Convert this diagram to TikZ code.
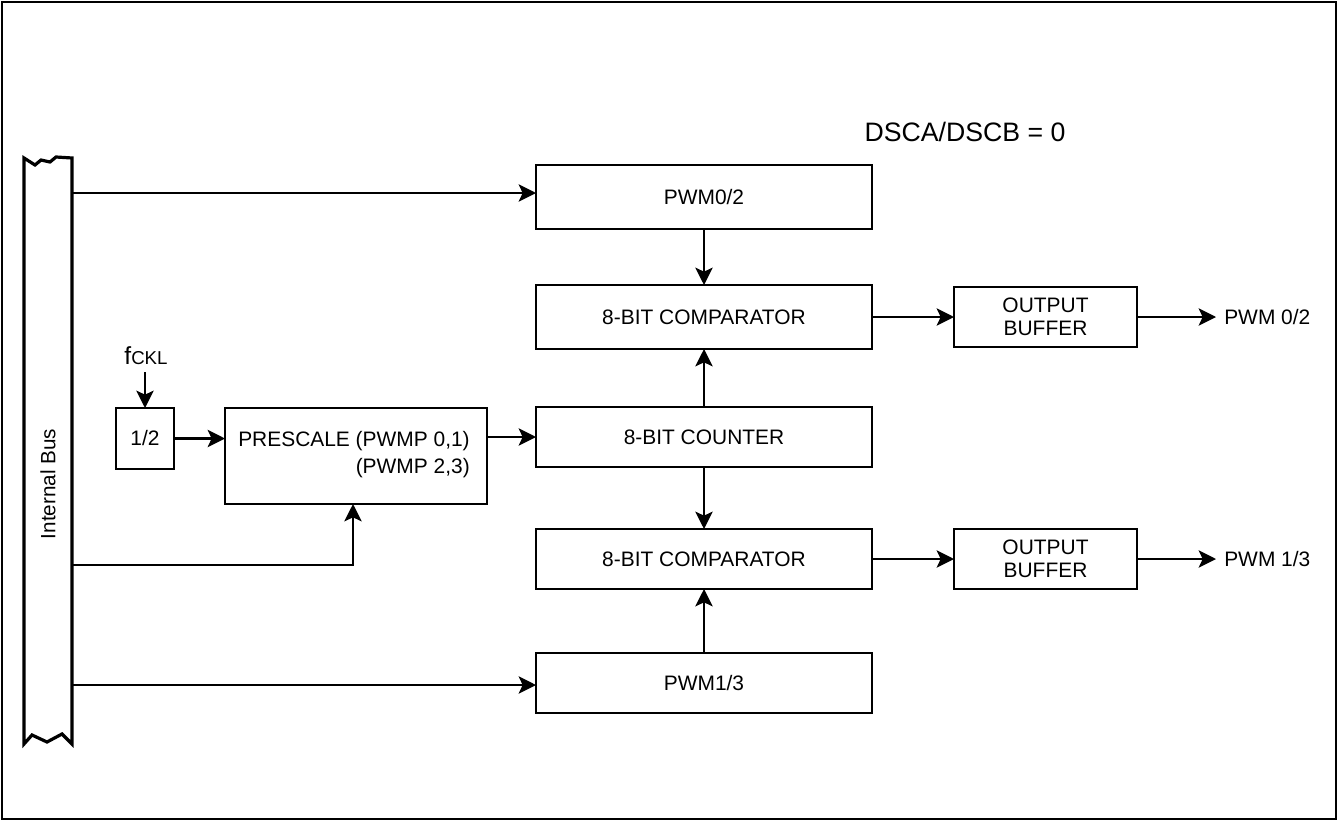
\documentclass[tikz,border=0pt]{standalone}
\usepackage{fontspec}
\setmainfont{Liberation Sans}
\usetikzlibrary{arrows.meta}
\begin{document}
\begin{tikzpicture}[x=0.75pt,y=-0.75pt,
  box/.style={draw,line width=2.2pt,anchor=north west,inner sep=0pt,outer sep=0pt,font=\fontsize{15.7}{17.5}\selectfont,align=center},
  lbl/.style={inner sep=0pt,font=\fontsize{15.7}{18}\selectfont},
  conn/.style={line width=1.7pt,-{Stealth[length=13pt,width=13pt,inset=3pt]}},
  wire/.style={line width=1.7pt}]
\useasboundingbox (0,0) rectangle (1338,821);
\draw[line width=1.8pt] (2,2) rectangle (1336,819);
% internal bus
\draw[line width=2.4pt,line join=miter] (24,158)--(35,165)--(41,160)--(50,162)--(56,157)--(72,158)--(72,744)--(62,734)--(47,742)--(32,735)--(24,744)--cycle;
\node[lbl,rotate=90,font=\fontsize{15.5}{17}\selectfont] (bus) at (48,484) {Internal Bus};
\coordinate (b1) at (72,193);
\coordinate (b2) at (72,565);
\coordinate (b3) at (72,685);
% boxes
\node[box,minimum width=252pt,minimum height=48pt] (pwma) at (536,165) {PWM0/2};
\node[box,minimum width=252pt,minimum height=48pt] (cmpa) at (536,285) {8-BIT COMPARATOR};
\node[box,minimum width=252pt,minimum height=45pt] (cnt) at (536,407) {8-BIT COUNTER};
\node[box,minimum width=252pt,minimum height=45pt] (cmpb) at (536,529) {8-BIT COMPARATOR};
\node[box,minimum width=252pt,minimum height=45pt] (pwmb) at (536,653) {PWM1/3};
\node[box,minimum width=137.25pt,minimum height=45pt] (obufa) at (954,287) {OUTPUT\\BUFFER};
\node[box,minimum width=137.25pt,minimum height=45pt] (obufb) at (954,529) {OUTPUT\\BUFFER};
\node[box,minimum width=43.5pt,minimum height=45.75pt] (half) at (116,408) {1/2};
\node[box,minimum width=196.5pt,minimum height=72pt] (pre) at (225,408) {};
\node[lbl,anchor=base east] (pretxta) at (470,446) {PRESCALE (PWMP 0,1)};
\node[lbl,anchor=base east] (pretxtb) at (470,473) {(PWMP 2,3)};
% labels
\node[lbl,font=\fontsize{20}{22}\selectfont] (dsc) at (965,132) {DSCA/DSCB = 0};
\node[lbl,anchor=west] (outa) at (1224,317) {PWM 0/2};
\node[lbl,anchor=west] (outb) at (1224,559) {PWM 1/3};
\node[lbl,anchor=base] (fck) at (146,364) {\fontsize{18.5}{20}\selectfont f\fontsize{14}{16}\selectfont CKL};
\coordinate (fckb) at (145,372);
% connectors
\draw[conn] (b1) -- (b1 -| pwma.west);
\draw[conn] (b3) -- (b3 -| pwmb.west);
\draw[conn] (b2) -- (353,565) -- (353,565 |- pre.south);
\draw[conn] (fckb) -- (half.north);
\draw[conn] (half.east) -- (half.east -| pre.west);
\draw[conn] (pre.east |- cnt.west) -- (cnt.west);
\draw[conn] (pwma.south) -- (cmpa.north);
\draw[conn] (cnt.north) -- (cmpa.south);
\draw[conn] (cnt.south) -- (cmpb.north);
\draw[conn] (pwmb.north) -- (cmpb.south);
\draw[conn] (cmpa.east |- obufa.west) -- (obufa.west);
\draw[conn] (cmpb.east |- obufb.west) -- (obufb.west);
\draw[conn] (obufa.east) -- ([xshift=-6pt]obufa.east -| outa.west);
\draw[conn] (obufb.east) -- ([xshift=-6pt]obufb.east -| outb.west);
\end{tikzpicture}
\end{document}
